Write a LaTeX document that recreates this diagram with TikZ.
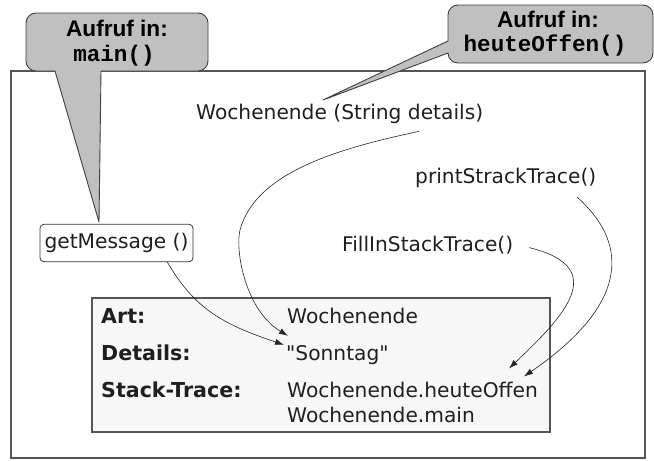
\documentclass[tikz,border=0pt]{standalone}
\usepackage{fontspec}
\newfontfamily\bodyfont{DejaVu Sans}
\setmonofont{Liberation Mono}
\newfontfamily\headfont{Liberation Sans}
\usetikzlibrary{arrows.meta,positioning}

\definecolor{calloutgray}{RGB}{192,192,192}
\definecolor{framegray}{RGB}{85,85,85}
\definecolor{boxgray}{RGB}{247,247,247}

\tikzset{
  txt/.style={anchor=base west, inner sep=0pt, text=black!88,
    font=\bodyfont\fontsize{20.2}{24}\selectfont},
  lbl/.style={txt, font=\bodyfont\fontsize{20.6}{24}\selectfont\bfseries},
  head/.style={anchor=base, inner sep=0pt, text=black,
    font=\headfont\fontsize{22.6}{26}\selectfont\bfseries},
  callout/.style={fill=calloutgray, draw=black!75, line width=0.9pt, line join=round},
  methodbox/.style={draw=black!80, fill=white, rounded corners=4pt, line width=0.8pt,
    inner sep=0pt, minimum width=153pt, minimum height=37.5pt, text=black!88,
    font=\bodyfont\fontsize{20.2}{24}\selectfont},
  flow/.style={->, line width=0.6pt, draw=black!85},
}

\begin{document}
\begin{tikzpicture}[x=1pt, y=-1pt, >={Latex[length=9pt,width=6pt]}, line cap=round]
  \useasboundingbox[fill=white] (0,0) rectangle (654,461);

  % object frame and the exception record
  \draw[framegray, line width=1.4pt, fill=white] (11,71) rectangle (645,458);
  \draw[framegray, line width=1.1pt, fill=boxgray] (92,298) rectangle (550,432);

  \node[lbl] (art) at (101,323) {Art:};
  \node[lbl] (details) at (101,360) {Details:};
  \node[lbl] (stacktrace) at (101,397) {Stack-Trace:};
  \node[txt] (artval) at (287,323) {Wochenende};
  \node[txt] (sonntag) at (286,360) {"Sonntag"};
  \node[txt] (heuteoffen) at (287,397) {Wochenende.heuteOffen};
  \node[txt] (mainval) at (287,422) {Wochenende.main};

  % methods
  \node[txt] (wochenende) at (196,119) {Wochenende (String details)};
  \node[txt] (printtrace) at (415,183) {printStrackTrace()};
  \node[txt] (fillin) at (342,251) {FillInStackTrace()};
  \node[methodbox] (getmsg) at (116.5,243) {getMessage ()};

  \draw[flow] ([xshift=-26pt]getmsg.south east)
    .. controls (195,310) and (225,325) .. ([xshift=-2pt]sonntag.north west);
  \draw[flow] ([shift={(223,8)}]wochenende.south west)
    .. controls (330,150) and (255,175) .. (240,230)
    .. controls (235,250) and (245,310) .. ([shift={(2,-9)}]sonntag.north west);
  \draw[flow] ([shift={(16,3)}]fillin.east)
    .. controls (612,268) and (562,318) .. ([shift={(-29,-13)}]heuteoffen.north east);
  \draw[flow] ([shift={(-19,10)}]printtrace.south east)
    .. controls (625,240) and (635,300) .. ([shift={(-14,-5)}]heuteoffen.north east);

  % callouts
  \draw[callout] (36,13) -- (198,13) arc[start angle=-90, end angle=0, radius=10]
    -- (208,61) arc[start angle=0, end angle=90, radius=10]
    -- (101,71) -- (99,222) -- (55,71)
    -- (36,71) arc[start angle=90, end angle=180, radius=10]
    -- (26,23) arc[start angle=180, end angle=270, radius=10] -- cycle;
  \node[head] (callmain) at (117,36) {Aufruf in:};
  \node[head] (callmaincode) at (114,61) {\ttfamily\bfseries main()};

  \draw[callout] (458,5) -- (643,5) arc[start angle=-90, end angle=0, radius=10]
    -- (653,53) arc[start angle=0, end angle=90, radius=10]
    -- (458,63) arc[start angle=90, end angle=180, radius=10]
    -- (323,100) -- (448,41)
    -- (448,15) arc[start angle=180, end angle=270, radius=10] -- cycle;
  \node[head] (callheute) at (548,27) {Aufruf in:};
  \node[head] (callheutecode) at (545,51) {\ttfamily\bfseries heuteOffen()};
\end{tikzpicture}
\end{document}
